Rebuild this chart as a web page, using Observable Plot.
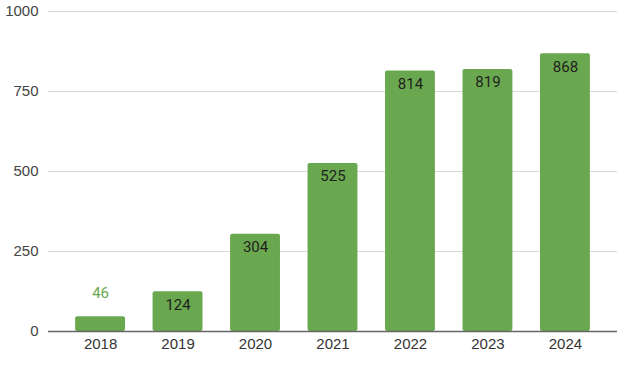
<!DOCTYPE html>
<html>
<head>
<meta charset="utf-8">
<script src="https://cdn.jsdelivr.net/npm/d3@7"></script>
<script src="https://cdn.jsdelivr.net/npm/@observablehq/plot@0.6"></script>
<style>
  html, body { margin: 0; padding: 0; background: #fff; }
  #chart svg { display: block; }
</style>
</head>
<body>
<div id="chart"></div>
<script>
const years = ["2018", "2019", "2020", "2021", "2022", "2023", "2024"];
const counts = [46, 124, 304, 525, 814, 819, 868];
const yTicks = [0, 250, 500, 750, 1000];

const data = years.map((year, i) => ({ year, count: counts[i] }));
const insideThreshold = 100;

const chart = Plot.plot({
  width: 626,
  height: 370,
  marginLeft: 48,
  marginRight: 9,
  marginTop: 11,
  marginBottom: 39,
  style: { background: "#fff", fontFamily: "'Liberation Sans', Arial, sans-serif", fontSize: "15px" },
  x: { domain: years, paddingInner: 0.356, paddingOuter: 0.35, round: false },
  y: { domain: [0, 1000] },
  marks: [
    Plot.gridY(yTicks, { stroke: "#d9d9d9", strokeOpacity: 1 }),
    Plot.axisY(yTicks, { tickSize: 0, tickPadding: 10, fontSize: 15, fill: "#444", label: null, tickFormat: d => String(d) }),
    Plot.axisX({ tickSize: 0, tickPadding: 7, fontSize: 15, fill: "#333", label: null }),
    Plot.barY(data, { x: "year", y: "count", fill: "#6aa84f", rx: 2 }),
    Plot.ruleY([0], { stroke: "#666", strokeWidth: 1.3 }),
    Plot.text(data.filter(d => d.count >= insideThreshold), {
      x: "year", y: "count", text: d => String(d.count), dy: 13,
      fill: "#1f1f1f", fontSize: 15, fontFamily: "Roboto, sans-serif", lineAnchor: "middle"
    }),
    Plot.text(data.filter(d => d.count < insideThreshold), {
      x: "year", y: "count", text: d => String(d.count), dy: -24,
      fill: "#6aa84f", fontSize: 15, fontFamily: "Roboto, sans-serif", lineAnchor: "middle"
    })
  ]
});
document.getElementById("chart").appendChild(chart);
</script>
</body>
</html>
